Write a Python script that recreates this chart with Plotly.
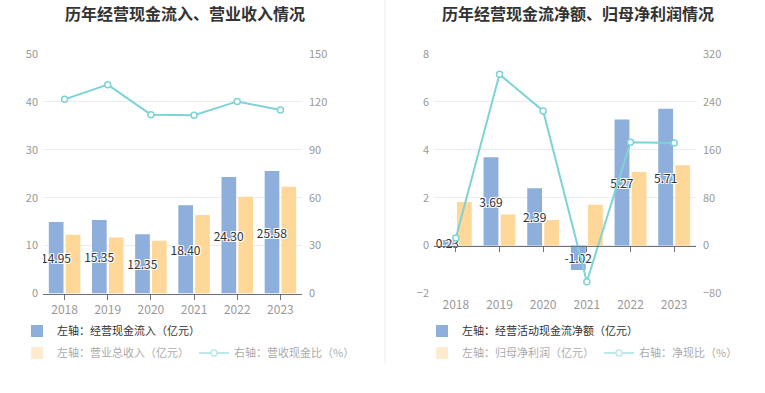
import plotly.graph_objects as go

# ---------------- data ----------------
years = ["2018", "2019", "2020", "2021", "2022", "2023"]

# left chart
cash_inflow = [14.95, 15.35, 12.35, 18.40, 24.30, 25.58]   # 经营现金流入（亿元）
revenue = [12.25, 11.70, 11.00, 16.40, 20.20, 22.30]       # 营业总收入（亿元）
cash_ratio = [121.6, 130.8, 112.0, 111.6, 120.3, 114.9]    # 营收现金比（%）
left_ticks = [0, 10, 20, 30, 40, 50]
left_ticks_r = [0, 30, 60, 90, 120, 150]

# right chart
net_cash = [0.23, 3.69, 2.39, -1.02, 5.27, 5.71]           # 经营活动现金流净额（亿元）
net_profit = [1.82, 1.30, 1.07, 1.71, 3.07, 3.35]          # 归母净利润（亿元）
net_ratio = [12.8, 286.0, 225.0, -60.5, 172.5, 171.5]      # 净现比（%）
right_ticks = [-2, 0, 2, 4, 6, 8]
right_ticks_r = [-80, 0, 80, 160, 240, 320]

titles = ["历年经营现金流入、营业收入情况", "历年经营现金流净额、归母净利润情况"]
names_left = ["左轴：经营现金流入（亿元）", "左轴：营业总收入（亿元）", "右轴：营收现金比（%）"]
names_right = ["左轴：经营活动现金流净额（亿元）", "左轴：归母净利润（亿元）", "右轴：净现比（%）"]

# ---------------- style ----------------
W, H = 765, 393
BLUE = "#8EAEDB"
YELLOW = "#FFD899"
TEAL = "#7DD3D6"
GRID = "#E8ECF4"
AXIS = "#6E7079"
TICKTXT = "#999999"
FONT = "Noto Sans CJK SC, Noto Sans, sans-serif"
SHADOW = "1px 1px 0 #fff, -1px -1px 0 #fff, 1px -1px 0 #fff, -1px 1px 0 #fff"

BAR_W = 0.34
OFF_A = -0.365
OFF_B = 0.025

xL = [43 / W, 302 / W]
xR = [434 / W, 696 / W]
ydom = [(H - 293.5) / H, (H - 54) / H]

fig = go.Figure()


def bar_text(vals):
    return [f"{v:.2f}" for v in vals]


def add_panel(xa, ya, ya2, vals_bar, vals_bar2, vals_line, names, leg1, leg2, xa_line):
    # yellow first so that the blue bar labels are drawn on top of it
    fig.add_trace(go.Bar(
        x=years, y=vals_bar2, xaxis=xa, yaxis=ya, name=names[1], marker_color=YELLOW,
        marker_line_width=0, width=BAR_W, offset=OFF_B, showlegend=False))
    fig.add_trace(go.Bar(
        x=years, y=vals_bar, xaxis=xa, yaxis=ya, name=names[0], marker_color=BLUE,
        marker_line_width=0, width=BAR_W, offset=OFF_A,
        text=bar_text(vals_bar), textposition="inside", insidetextanchor="middle",
        constraintext="none", textangle=0,
        textfont=dict(size=12, color="#333333", family=FONT, shadow=SHADOW),
        legend=leg1, showlegend=True))
    fig.add_trace(go.Scatter(
        x=years, y=vals_line, xaxis=xa_line, yaxis=ya2, name=names[2], mode="lines+markers",
        line=dict(color=TEAL, width=2),
        marker=dict(symbol="circle", size=6, color="white", line=dict(color=TEAL, width=1.5)),
        showlegend=False))
    # legend-only entries (faded, like the reference)
    fig.add_trace(go.Bar(
        x=years, y=vals_bar2, xaxis=xa, yaxis=ya, name=names[1], marker_color=YELLOW,
        visible="legendonly", legend=leg2))
    fig.add_trace(go.Scatter(
        x=years, y=vals_line, xaxis=xa_line, yaxis=ya2, name=names[2], mode="lines+markers",
        line=dict(color=TEAL, width=2),
        marker=dict(symbol="circle", size=6, color="white", line=dict(color=TEAL, width=1.5)),
        visible="legendonly", legend=leg2))


add_panel("x", "y", "y2", cash_inflow, revenue, cash_ratio, names_left, "legend", "legend2", "x")
add_panel("x2", "y3", "y4", net_cash, net_profit, net_ratio, names_right, "legend3", "legend4", "x3")

tickfont_y = dict(size=11, color=TICKTXT, family=FONT)
tickfont_x = dict(size=12, color=TICKTXT, family=FONT)

# position of zero line in right panel (paper coords)
r0, r1 = right_ticks[0], right_ticks[-1]
zero_pos = ydom[0] + (0 - r0) / (r1 - r0) * (ydom[1] - ydom[0])

legend_common = dict(orientation="h", bgcolor="rgba(0,0,0,0)", yanchor="middle",
                     xanchor="left", itemclick=False, itemdoubleclick=False,
                     tracegroupgap=0, itemwidth=30)

fig.update_layout(
    width=W, height=H, margin=dict(l=0, r=0, t=0, b=0, autoexpand=False),
    paper_bgcolor="white", plot_bgcolor="white",
    font=dict(family=FONT, color="#333333"),
    barmode="overlay",
    xaxis=dict(domain=xL, anchor="y", type="category", range=[-0.5, 5.5],
               showline=True, linecolor=AXIS, linewidth=1, ticks="outside", ticklen=5,
               tickcolor=AXIS, showgrid=False, tickfont=tickfont_x, fixedrange=True),
    yaxis=dict(domain=ydom, anchor="x", range=[left_ticks[0], left_ticks[-1]], tickvals=left_ticks,
               showgrid=True, gridcolor=GRID, zeroline=False, showline=False,
               tickfont=tickfont_y, ticklabelstandoff=4),
    yaxis2=dict(overlaying="y", side="right", anchor="x", range=[left_ticks_r[0], left_ticks_r[-1]],
                tickvals=left_ticks_r, showgrid=False, zeroline=False, showline=False,
                tickfont=tickfont_y, ticklabelstandoff=6),
    xaxis2=dict(domain=xR, anchor="y3", type="category", range=[-0.5, 5.5],
                showline=False, ticks="", showgrid=False, tickfont=tickfont_x,
                ticklabelstandoff=2),
    xaxis3=dict(overlaying="x2", anchor="free", position=zero_pos, type="category",
                range=[-0.5, 5.5], showline=True, linecolor=AXIS, linewidth=1,
                ticks="outside", ticklen=5, tickcolor=AXIS, showticklabels=False,
                showgrid=False, zeroline=False),
    yaxis3=dict(domain=ydom, anchor="x2", range=[r0, r1], tickvals=right_ticks,
                showgrid=True, gridcolor=GRID, zeroline=False, showline=False,
                tickfont=tickfont_y, ticklabelstandoff=4),
    yaxis4=dict(overlaying="y3", side="right", anchor="free", position=xR[1],
                range=[right_ticks_r[0], right_ticks_r[-1]], tickvals=right_ticks_r,
                showgrid=False, zeroline=False, showline=False,
                tickfont=tickfont_y, ticklabelstandoff=6),
    legend=dict(**legend_common, x=17 / W, y=(H - 331) / H,
                font=dict(size=11, color="#333333", family=FONT)),
    legend2=dict(**legend_common, x=17 / W, y=(H - 353) / H,
                 font=dict(size=11, color="#555555", family=FONT)),
    legend3=dict(**legend_common, x=422 / W, y=(H - 331) / H,
                 font=dict(size=11, color="#333333", family=FONT)),
    legend4=dict(**legend_common, x=422 / W, y=(H - 353) / H,
                 font=dict(size=11, color="#555555", family=FONT)),
    annotations=[
        dict(text=f"<b>{titles[0]}</b>", x=185 / W, y=(H - 13) / H, xref="paper", yref="paper",
             xanchor="center", yanchor="middle", showarrow=False,
             font=dict(size=16, color="#333333", family=FONT)),
        dict(text=f"<b>{titles[1]}</b>", x=578 / W, y=(H - 13) / H, xref="paper", yref="paper",
             xanchor="center", yanchor="middle", showarrow=False,
             font=dict(size=16, color="#333333", family=FONT)),
    ],
    shapes=[
        dict(type="line", xref="paper", yref="paper", x0=385 / W, x1=385 / W,
             y0=(H - 365) / H, y1=1, line=dict(color="#EEEEEE", width=1)),
    ],
)

fig.write_html(
    "out.html",
    config={"displayModeBar": False},
    post_script="document.body.style.margin='0';document.body.style.padding='0';",
)
